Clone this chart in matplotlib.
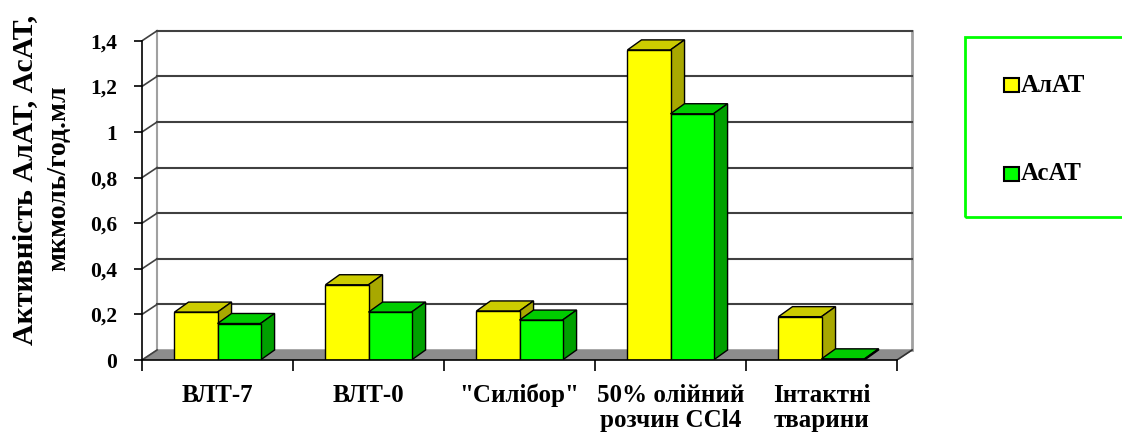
import numpy as np
import matplotlib.pyplot as plt
from matplotlib.patches import Rectangle

# data
categories = ['ВЛТ-7', 'ВЛТ-0', '"Силібор"', '50% олійний\nрозчин CCl4', 'Інтактні\nтварини']
series_names = ['АлАТ', 'АсАТ']
alat = [0.21, 0.33, 0.215, 1.36, 0.19]
asat = [0.16, 0.21, 0.175, 1.08, 0.005]
yticks = [0, 0.2, 0.4, 0.6, 0.8, 1.0, 1.2, 1.4]
ytick_labels = ['0', '0,2', '0,4', '0,6', '0,8', '1', '1,2', '1,4']

front_cols = ['#FFFF00', '#00FF00']
top_cols = ['#CCCC00', '#00CC00']
side_cols = ['#A8A800', '#00A000']

plt.rcParams['font.family'] = ['Liberation Serif', 'DejaVu Serif']
plt.rcParams['font.weight'] = 'bold'

W, H = 1122, 434
fig = plt.figure(figsize=(W / 100, H / 100), dpi=100)

# axes: x in category units (151 px each), y in value units (228 px per 1.0)
x_left, y_bottom = 142, 360
xmax, ymax = 5.15, 1.46
ax = fig.add_axes([x_left / W, 1 - y_bottom / H,
                   xmax * 151 / W, ymax * 228 / H])
ax.set_xlim(0, xmax)
ax.set_ylim(0, ymax)
ax.patch.set_visible(False)

n = len(categories)
ddx, ddy = 0.1, 0.044    # depth of the walls
bdx, bdy = 0.093, 0.044  # depth of the bars
bw = 0.285

# floor
ax.fill([0, n, n + ddx, ddx], [0, 0, ddy, ddy], color='#8C8C8C', zorder=1)
ax.plot([n, n + ddx], [0, ddy], color='#303030', lw=1.2, zorder=1.5)

# back wall gridlines and left wall diagonals
for t in yticks[1:]:
    ax.plot([ddx, n + ddx], [t + ddy, t + ddy], color='#404040', lw=1.5, zorder=1.2)
for t in yticks:
    ax.plot([0, ddx], [t, t + ddy], color='#404040', lw=1.2, zorder=1.2)
ax.plot([ddx, ddx], [ddy, yticks[-1] + ddy], color='#A0A0A0', lw=1.5, zorder=1.1)
ax.plot([n + ddx, n + ddx], [ddy, yticks[-1] + ddy], color='#A0A0A0', lw=2, zorder=1.1)

# 3d-looking bars
centers = np.arange(n) + 0.5
for s, vals in enumerate([alat, asat]):
    x0s = centers - bw + s * bw
    for x0, v in zip(x0s, vals):
        z = 3 + s
        ax.fill([x0, x0 + bdx, x0 + bw + bdx, x0 + bw],
                [v, v + bdy, v + bdy, v],
                facecolor=top_cols[s], edgecolor='black', lw=1, zorder=z)
        ax.fill([x0 + bw, x0 + bw, x0 + bw + bdx, x0 + bw + bdx],
                [0, v, v + bdy, bdy],
                facecolor=side_cols[s], edgecolor='black', lw=1, zorder=z)
    ax.bar(x0s, vals, width=bw, align='edge', color=front_cols[s],
           edgecolor='black', lw=1, zorder=3 + s)

# axes lines and ticks
for side in ['top', 'right']:
    ax.spines[side].set_visible(False)
ax.spines['left'].set_bounds(0, yticks[-1])
ax.spines['bottom'].set_bounds(0, n)
ax.spines['left'].set_linewidth(1.2)
ax.spines['bottom'].set_linewidth(1.2)
ax.spines['left'].set_zorder(6)
ax.spines['bottom'].set_zorder(6)

ax.set_yticks(yticks)
ax.set_yticklabels(ytick_labels, fontsize=15.5, fontweight='bold')
ax.tick_params(axis='y', direction='out', length=6, width=1.2, pad=12)

ax.set_xticks(np.arange(n + 1))
ax.set_xticklabels([])
ax.tick_params(axis='x', which='major', direction='out', length=8, width=1.2)
ax.set_xticks(centers, minor=True)
ax.set_xticklabels(categories, minor=True, fontsize=18, fontweight='bold',
                   linespacing=1.12)
ax.tick_params(axis='x', which='minor', length=0, pad=17)

# y-axis label in two lines of different size
fig.text(25 / W, 1 - 180 / H, 'Активність АлАТ, АсАТ,', rotation=90,
         ha='center', va='center', fontsize=21.5, fontweight='bold')
fig.text(59 / W, 1 - 178 / H, 'мкмоль/год.мл', rotation=90,
         ha='center', va='center', fontsize=20, fontweight='bold')

# legend box (runs past the right edge as in the original)
fig.patches.append(Rectangle((965 / W, 1 - 217 / H), 170 / W, 180 / H,
                             transform=fig.transFigure, fill=False,
                             edgecolor='#00FF00', lw=2, clip_on=False))
for s, (name, py) in enumerate(zip(series_names, [85, 174])):
    fig.patches.append(Rectangle((1004 / W, 1 - (py + 7) / H), 15 / W, 14 / H,
                                 transform=fig.transFigure,
                                 facecolor=front_cols[s], edgecolor='black', lw=1.5))
    fig.text(1021 / W, 1 - py / H, name, ha='left', va='center',
             fontsize=18, fontweight='bold')

fig.savefig('out.png', dpi=100)
